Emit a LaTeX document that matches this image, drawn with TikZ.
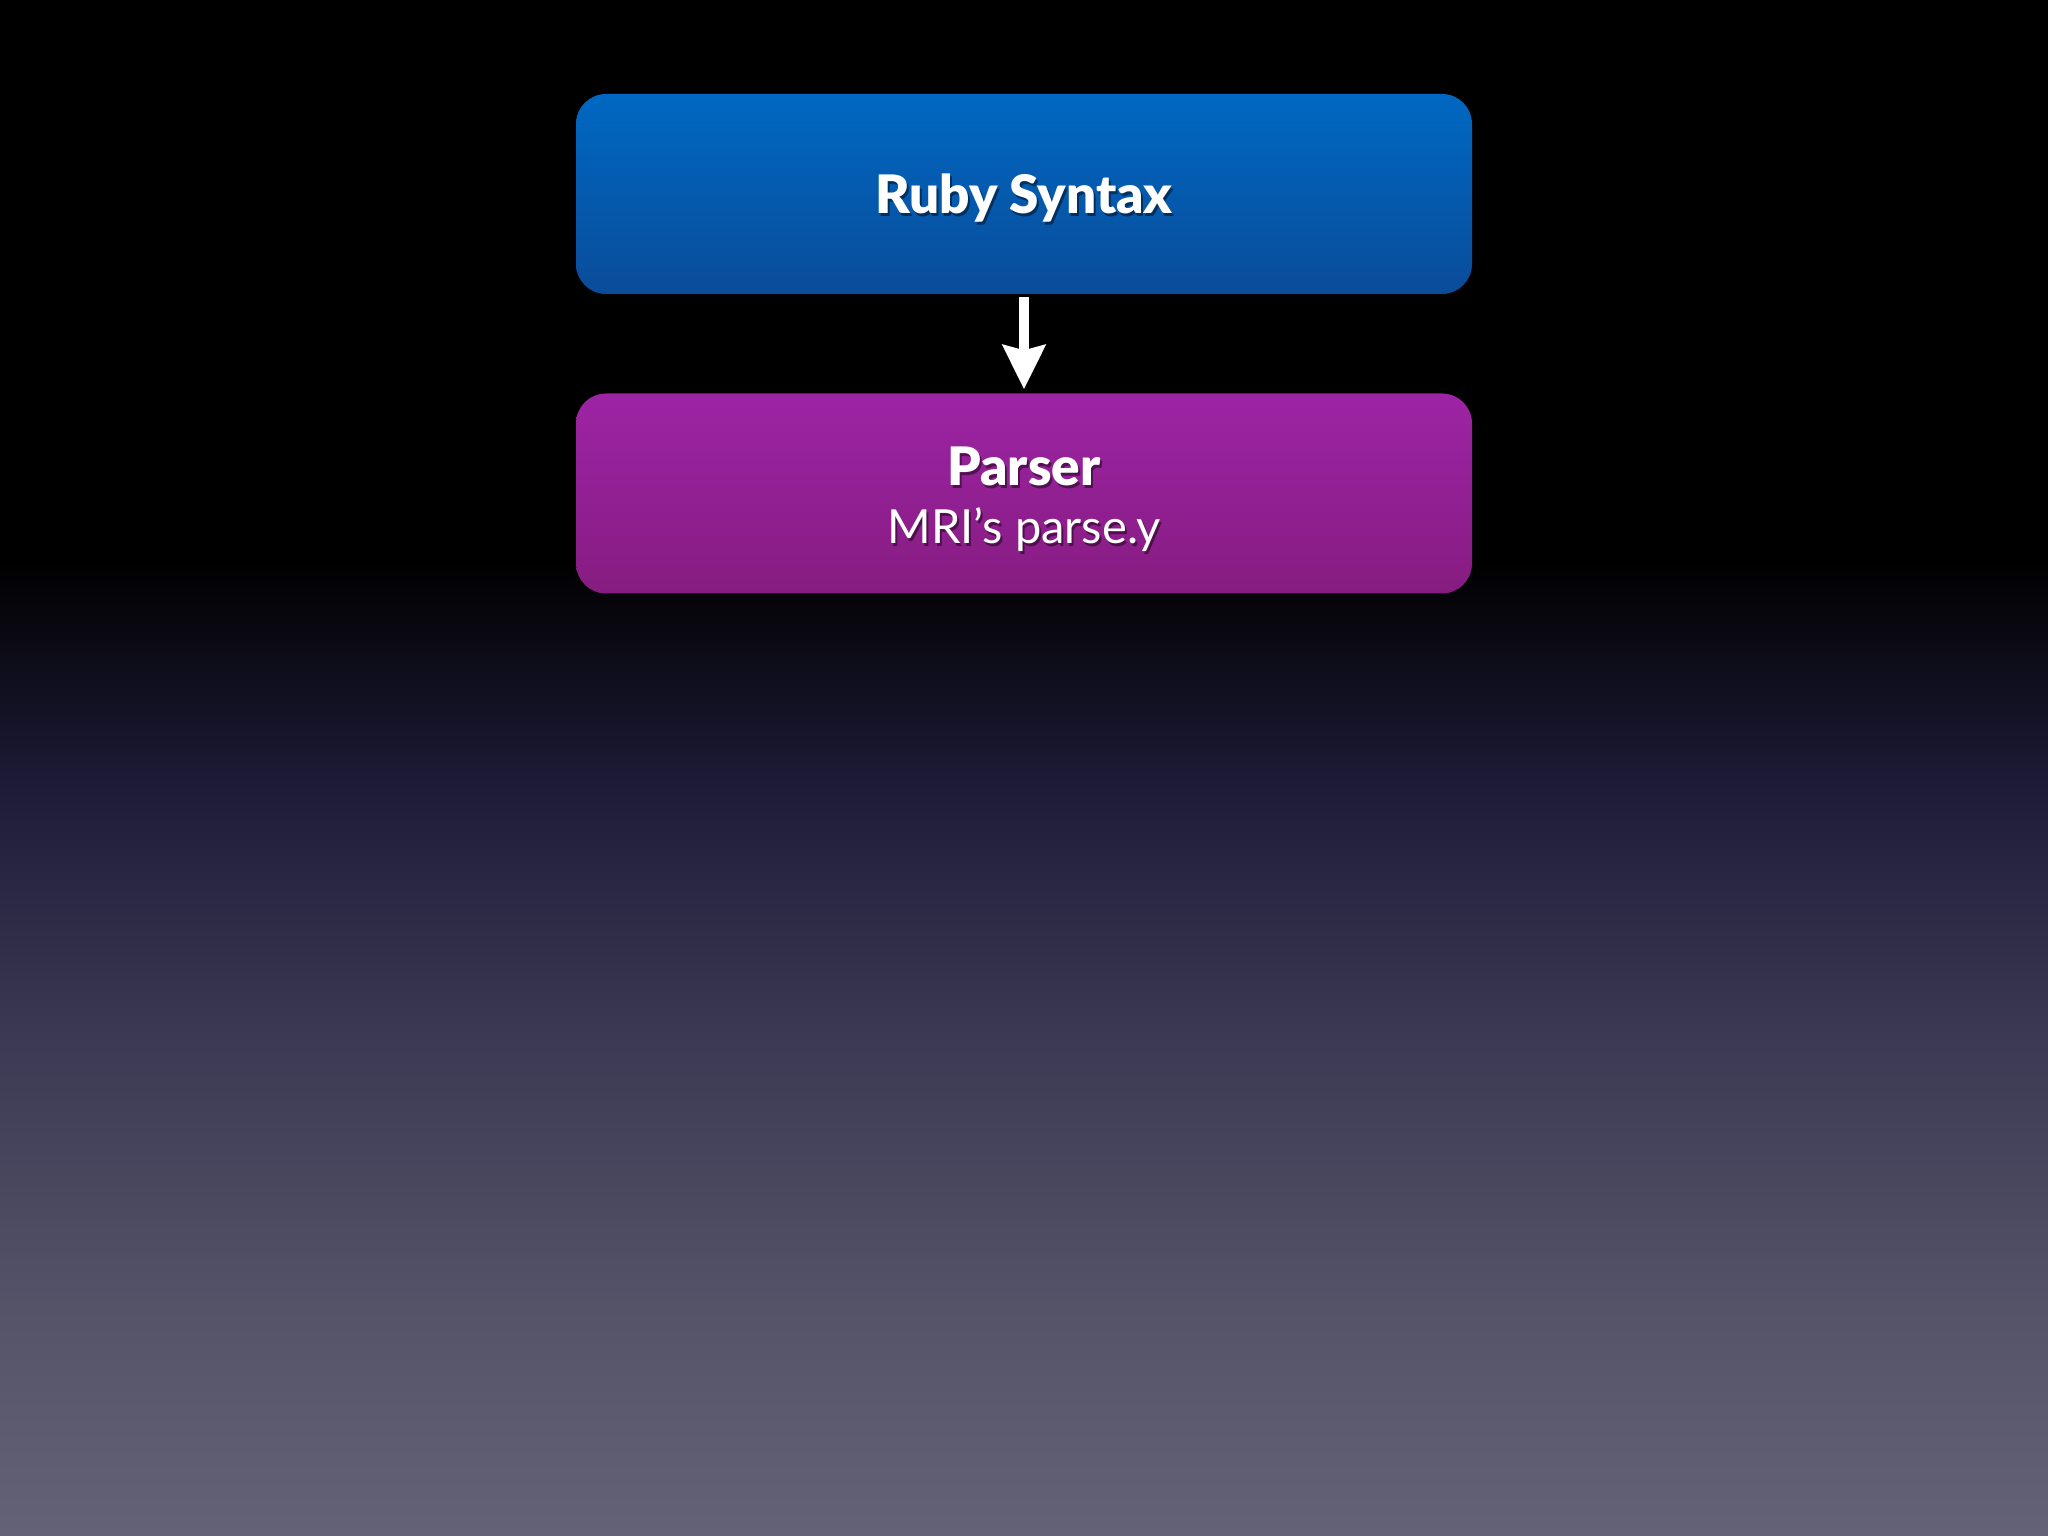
\documentclass[tikz,border=0pt]{standalone}
\usepackage{fontspec}
\setmainfont{Lato}[BoldFont={Lato Black}]
\usetikzlibrary{arrows.meta}
\definecolor{bgA}{HTML}{000000}
\definecolor{bgB}{HTML}{1D1B37}
\definecolor{bgC}{HTML}{3C3A54}
\definecolor{bgD}{HTML}{545368}
\definecolor{bgE}{HTML}{636276}
\definecolor{blueTop}{HTML}{0068C2}
\definecolor{blueBot}{HTML}{0A4C9A}
\definecolor{purTop}{HTML}{9D24A5}
\definecolor{purBot}{HTML}{861C80}
\tikzset{
  box/.style={rounded corners=30pt, minimum width=896pt, minimum height=200pt,
    inner sep=0pt, text=white, align=center},
  boldfont/.style={font=\fontsize{53}{60}\selectfont\bfseries},
  twoline/.style={font=\fontsize{47}{58}\selectfont, align=center},
  shadowtext/.style={text=black, opacity=0.45},
  flow/.style={white, line width=10pt, -{Stealth[width=42pt,length=44pt,inset=5pt]}},
}
\begin{document}
\begin{tikzpicture}[x=1pt,y=1pt]
\useasboundingbox (0,0) rectangle (2048,1536);
% background
\fill[bgA] (0,1536) rectangle (2048,975);
\shade[top color=bgA,bottom color=bgB] (0,976) rectangle (2048,751);
\shade[top color=bgB,bottom color=bgC] (0,752) rectangle (2048,491);
\shade[top color=bgC,bottom color=bgD] (0,492) rectangle (2048,229);
\shade[top color=bgD,bottom color=bgE] (0,230) rectangle (2048,0);
% boxes
\node[box, top color=blueTop, bottom color=blueBot] (syntax) at (1024,1342) {};
\node[box, top color=purTop, bottom color=purBot] (parser) at (1024,1042.5) {};
% texts
\node[shadowtext, boldfont] at ([xshift=2pt,yshift=-7pt]syntax.center) {Ruby Syntax};
\node[text=white, boldfont] (syntaxText) at ([yshift=-4pt]syntax.center) {Ruby Syntax};
\node[shadowtext, twoline] at ([xshift=2pt,yshift=-9pt]parser.center) {{\fontsize{53}{58}\selectfont\bfseries Parser}\\MRI’s parse.y};
\node[text=white, twoline] (parserText) at ([yshift=-6pt]parser.center) {{\fontsize{53}{58}\selectfont\bfseries Parser}\\MRI’s parse.y};
% connector
\draw[flow] ([yshift=-3pt]syntax.south) -- ([yshift=4pt]parser.north);
\end{tikzpicture}
\end{document}
